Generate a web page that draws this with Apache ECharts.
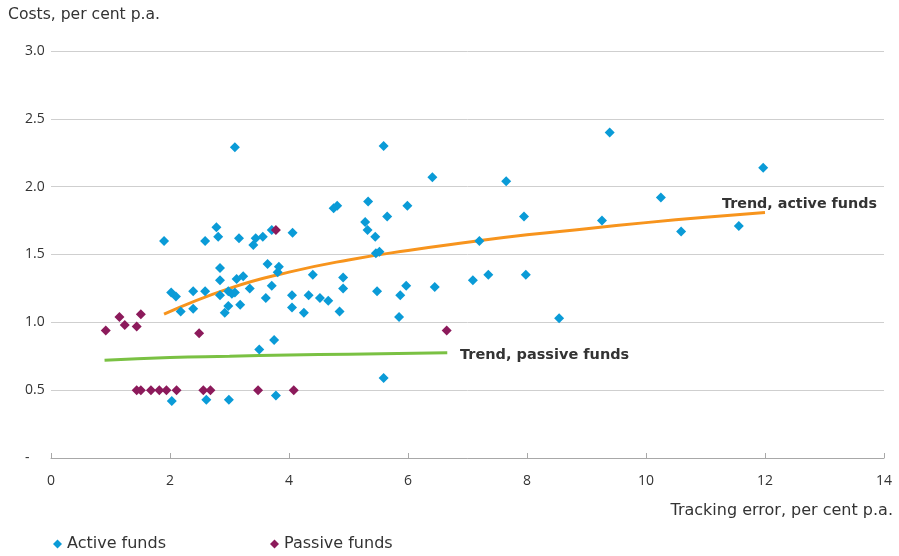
<!DOCTYPE html>
<html>
<head>
<meta charset="utf-8">
<script src="https://cdn.jsdelivr.net/npm/echarts@6/dist/echarts.min.js"></script>
<style>html,body{margin:0;padding:0;background:#fff}#c{width:899px;height:556px}</style>
</head>
<body>
<div id="c"></div>
<script>
// Active funds: tracking error (x) and costs (y)
var activeTE = [3.09,5.59,9.39,11.97,6.41,7.65,10.25,5.33,4.75,4.81,5.99,7.95,5.65,9.26,5.28,11.56,10.59,5.32,5.45,1.90,7.20,2.59,2.78,2.81,3.16,3.44,3.40,3.56,3.71,4.06,5.46,5.52,2.84,3.64,3.83,3.81,2.84,3.12,3.23,3.71,4.40,4.91,7.09,7.35,7.98,2.02,2.10,2.39,2.59,2.84,2.98,3.04,3.09,3.34,3.61,4.05,4.05,4.33,4.52,4.66,4.25,4.85,4.91,5.48,5.87,5.97,5.85,6.45,8.54,2.18,2.39,2.98,3.18,2.92,3.50,3.75,5.59,2.03,2.61,2.99,3.78];
var activeCost = [2.29,2.30,2.40,2.14,2.07,2.04,1.92,1.89,1.84,1.86,1.86,1.78,1.78,1.75,1.74,1.71,1.67,1.68,1.63,1.60,1.60,1.60,1.70,1.63,1.62,1.62,1.57,1.63,1.68,1.66,1.51,1.52,1.40,1.43,1.41,1.37,1.31,1.32,1.34,1.27,1.35,1.33,1.31,1.35,1.35,1.22,1.19,1.23,1.23,1.20,1.23,1.21,1.22,1.25,1.18,1.20,1.11,1.20,1.18,1.16,1.07,1.08,1.25,1.23,1.20,1.27,1.04,1.26,1.03,1.08,1.10,1.12,1.13,1.07,0.80,0.87,0.59,0.42,0.43,0.43,0.46];
// Passive funds
var passiveTE = [0.92,1.15,1.24,1.44,1.51,2.49,6.65,3.78,1.44,1.51,1.68,1.82,1.94,2.11,2.56,2.68,3.48,4.08];
var passiveCost = [0.94,1.04,0.98,0.97,1.06,0.92,0.94,1.68,0.50,0.50,0.50,0.50,0.50,0.50,0.50,0.50,0.50,0.50];
// Trend lines
var trendActiveX = [1.9,3,4,5,6,7,8,9,10,11,12];
var trendActiveY = [1.06,1.25,1.37,1.46,1.53,1.59,1.645,1.69,1.735,1.775,1.81];
var trendPassiveX = [0.9,2,3,4,5,6.66];
var trendPassiveY = [0.72,0.74,0.75,0.76,0.765,0.775];
// Axis ticks
var xTicks = [0,2,4,6,8,10,12,14];
var yTicks = [0,0.5,1.0,1.5,2.0,2.5,3.0];
var yTickLabels = ['-','0.5','1.0','1.5','2.0','2.5','3.0'];

function zip(a,b){return a.map(function(v,i){return [v,b[i]];});}

var TICKFONT = '"Open Sans", "Noto Sans", sans-serif';
var FONT = '"DejaVu Sans", "Open Sans", sans-serif';
var TXT = '#333333';
var chart = echarts.init(document.getElementById('c'), null, {renderer:'canvas'});
chart.setOption({
  animation:false,
  backgroundColor:'#ffffff',
  textStyle:{fontFamily:FONT},
  grid:{left:51,right:15,top:51,bottom:98,containLabel:false},
  xAxis:{type:'value',min:xTicks[0],max:xTicks[xTicks.length-1],interval:2,
    splitLine:{show:false},
    axisLine:{show:true,lineStyle:{color:'#a8a8a8',width:1}},
    axisTick:{show:true,inside:true,length:5,lineStyle:{color:'#a8a8a8'}},
    axisLabel:{margin:16,color:TXT,fontSize:14,fontFamily:TICKFONT}},
  yAxis:{type:'value',min:yTicks[0],max:yTicks[yTicks.length-1],interval:0.5,
    splitLine:{show:true,lineStyle:{color:'#cfcfcf',width:1}},
    axisLine:{show:false},axisTick:{show:false},
    axisLabel:{align:'left',margin:26,color:TXT,fontSize:14,fontFamily:TICKFONT,
      formatter:function(v){var i=yTicks.findIndex(function(t){return Math.abs(t-v)<1e-9;});return i>=0?yTickLabels[i]:'';}}},
  legend:{data:['Active funds','Passive funds'],left:53,top:536,padding:0,icon:'diamond',itemWidth:9,itemHeight:9,itemGap:104,
    textStyle:{color:TXT,fontSize:16,fontFamily:FONT}},
  graphic:[
    {type:'text',left:8,top:7,style:{text:'Costs, per cent p.a.',fill:TXT,font:'15.6px '+FONT}},
    {type:'text',right:6,top:503,style:{text:'Tracking error, per cent p.a.',fill:TXT,font:'16px '+FONT}},
    {type:'text',left:722,top:197,style:{text:'Trend, active funds',fill:TXT,font:'bold 14.3px '+FONT}},
    {type:'text',left:460,top:348,style:{text:'Trend, passive funds',fill:TXT,font:'bold 14.5px '+FONT}}
  ],
  series:[
    {name:'Trend active',type:'line',data:zip(trendActiveX,trendActiveY),smooth:true,showSymbol:false,
      lineStyle:{color:'#f7941d',width:3},z:1},
    {name:'Trend passive',type:'line',data:zip(trendPassiveX,trendPassiveY),smooth:true,showSymbol:false,
      lineStyle:{color:'#7ac143',width:3},z:1},
    {name:'Active funds',type:'scatter',symbol:'diamond',symbolSize:10,data:zip(activeTE,activeCost),
      itemStyle:{color:'#0a9bd7',opacity:1},z:3},
    {name:'Passive funds',type:'scatter',symbol:'diamond',symbolSize:10,data:zip(passiveTE,passiveCost),
      itemStyle:{color:'#8c1a5b',opacity:1},z:4}
  ]
});
</script>
</body>
</html>
